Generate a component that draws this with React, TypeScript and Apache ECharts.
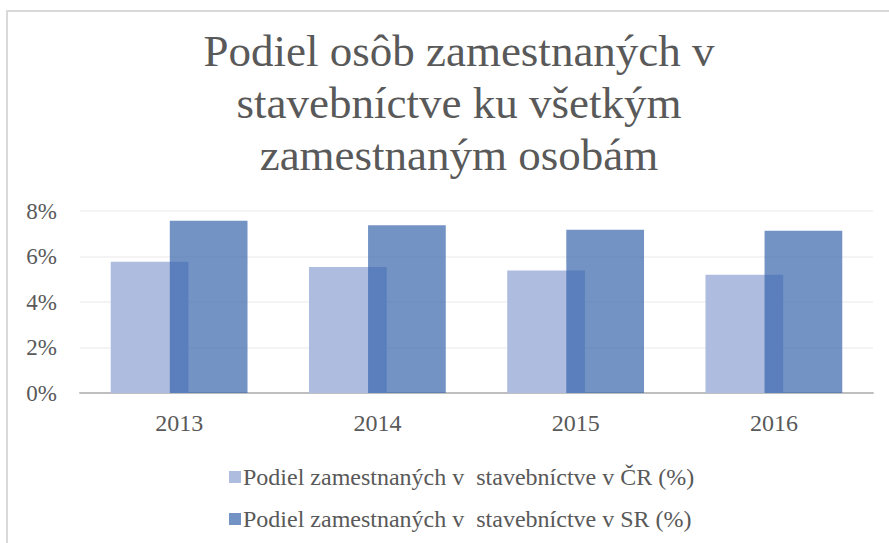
import React, { useEffect, useRef } from "react";
import * as echarts from "echarts";

const categories = ["2013", "2014", "2015", "2016"];
const seriesCR = [5.77, 5.54, 5.39, 5.2];
const seriesSR = [7.57, 7.37, 7.18, 7.13];
const nameCR = "Podiel zamestnaných v  stavebníctve v ČR (%)";
const nameSR = "Podiel zamestnaných v  stavebníctve v SR (%)";
const titleText = "Podiel osôb zamestnaných v\nstavebníctve ku všetkým\nzamestnaným osobám";

const FONT = "'Liberation Serif', 'Times New Roman', serif";

export default function App() {
  const ref = useRef<HTMLDivElement>(null);
  useEffect(() => {
    if (!ref.current) return;
    const chart = echarts.init(ref.current, undefined, { renderer: "svg" });
    chart.setOption({
      animation: false,
      backgroundColor: "transparent",
      title: {
        text: titleText,
        left: 454,
        textAlign: "center",
        top: 20,
        textStyle: {
          fontFamily: FONT,
          fontSize: 45,
          fontWeight: "normal",
          color: "#595959",
          lineHeight: 52,
        },
      },
      legend: {
        orient: "vertical",
        left: 224,
        top: 460,
        itemWidth: 12,
        itemHeight: 12,
        itemGap: 18,
        icon: "rect",
        textStyle: { fontFamily: FONT, fontSize: 24, color: "#595959", padding: [0, 0, 0, -3] },
        data: [nameCR, nameSR],
      },
      grid: { left: 80, right: 16, top: 211, bottom: 150, containLabel: false },
      xAxis: {
        type: "category",
        data: categories,
        axisTick: { show: false },
        axisLine: { lineStyle: { color: "#bfbfbf", width: 2 } },
        axisLabel: { fontFamily: FONT, fontSize: 24, color: "#595959", margin: 18 },
      },
      yAxis: {
        type: "value",
        min: 0,
        max: 8,
        interval: 2,
        axisLabel: { fontFamily: FONT, fontSize: 23, color: "#595959", formatter: "{value}%", margin: 23 },
        splitLine: { lineStyle: { color: "#f0f0f0", width: 1.5 } },
        axisLine: { show: false },
        axisTick: { show: false },
      },
      series: [
        {
          name: nameCR,
          type: "bar",
          data: seriesCR,
          barGap: "-24%",
          barCategoryGap: "31%",
          itemStyle: { color: "#aebddf" },
        },
        {
          name: nameSR,
          type: "bar",
          data: seriesSR,
          barGap: "-24%",
          barCategoryGap: "31%",
          itemStyle: { color: "rgba(55,101,172,0.7)" },
        },
      ],
    });
    return () => chart.dispose();
  }, []);
  return (
    <div style={{ position: "absolute", left: 0, top: 0, width: 889, height: 543, overflow: "hidden", background: "#ffffff" }}>
      <div
        style={{
          position: "absolute",
          left: 6,
          top: 10,
          width: 900,
          height: 600,
          borderLeft: "2px solid #d9d9d9",
          borderTop: "2px solid #d9d9d9",
        }}
      />
      <div ref={ref} style={{ position: "absolute", left: 0, top: 0, width: 889, height: 543 }} />
    </div>
  );
}
